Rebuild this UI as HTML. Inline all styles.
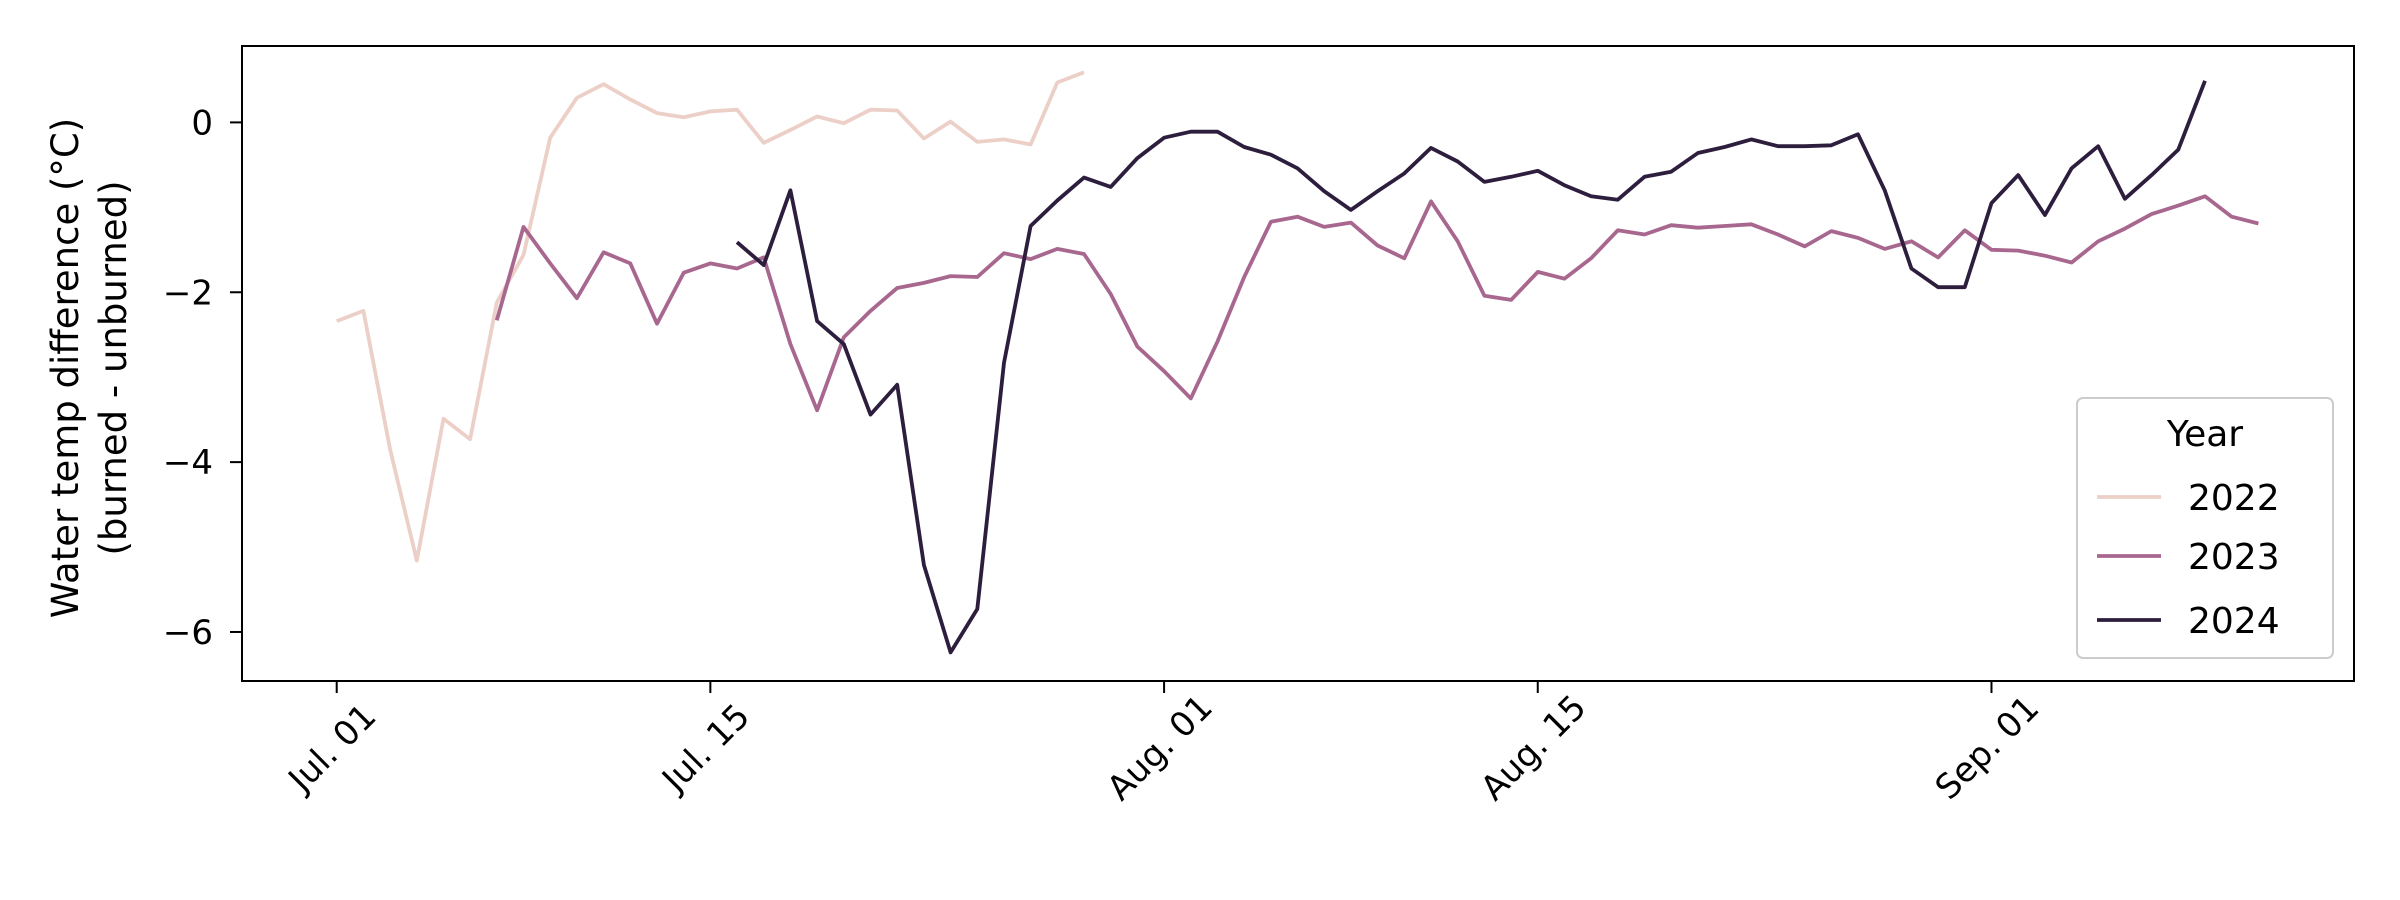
<!DOCTYPE html>
<html><head><meta charset="utf-8"><style>
html,body{margin:0;padding:0;background:#fff;}
svg{display:block;font-family:"DejaVu Sans","Liberation Sans",sans-serif;}
</style></head><body>
<svg id="chart" width="2400" height="900" viewBox="0 0 2400 900" xmlns="http://www.w3.org/2000/svg">
<rect x="0" y="0" width="2400" height="900" fill="#fff"/>
<g id="plot"></g>
<rect x="242" y="46" width="2112" height="635" fill="none" stroke="#000" stroke-width="2"/>
<g id="xaxis"></g>
<g id="yaxis"></g>
<text transform="translate(78,368) rotate(-90)" text-anchor="middle" font-size="37">Water temp difference (°C)</text>
<text transform="translate(126,368) rotate(-90)" text-anchor="middle" font-size="37">(burned - unburned)</text>
<g id="legend">
<rect x="2077" y="398" width="256" height="260" rx="6" fill="#fff" stroke="#ccc" stroke-width="2"/>
<text x="2205" y="446" text-anchor="middle" font-size="36">Year</text>
</g>
</svg>
<script>
const days2022 = [0,1,2,3,4,5,6,7,8,9,10,11,12,13,14,15,16,17,18,19,20,21,22,23,24,25,26,27,28];
const vals2022 = [-2.34,-2.22,-3.85,-5.16,-3.49,-3.73,-2.12,-1.56,-0.18,0.29,0.45,0.27,0.11,0.06,0.13,0.15,-0.24,-0.09,0.07,-0.01,0.15,0.14,-0.19,0.01,-0.23,-0.2,-0.26,0.47,0.59];
const days2023 = [6,7,8,9,10,11,12,13,14,15,16,17,18,19,20,21,22,23,24,25,26,27,28,29,30,31,32,33,34,35,36,37,38,39,40,41,42,43,44,45,46,47,48,49,50,51,52,53,54,55,56,57,58,59,60,61,62,63,64,65,66,67,68,69,70,71,72];
const vals2023 = [-2.33,-1.23,-1.66,-2.07,-1.53,-1.66,-2.37,-1.77,-1.66,-1.72,-1.59,-2.61,-3.39,-2.53,-2.22,-1.95,-1.89,-1.81,-1.82,-1.54,-1.61,-1.49,-1.55,-2.02,-2.64,-2.93,-3.25,-2.58,-1.82,-1.17,-1.11,-1.23,-1.18,-1.45,-1.6,-0.93,-1.4,-2.04,-2.09,-1.76,-1.84,-1.6,-1.27,-1.32,-1.21,-1.24,-1.22,-1.2,-1.32,-1.46,-1.28,-1.36,-1.49,-1.4,-1.59,-1.27,-1.5,-1.51,-1.57,-1.65,-1.4,-1.25,-1.08,-0.98,-0.87,-1.11,-1.19];
const days2024 = [15,16,17,18,19,20,21,22,23,24,25,26,27,28,29,30,31,32,33,34,35,36,37,38,39,40,41,42,43,44,45,46,47,48,49,50,51,52,53,54,55,56,57,58,59,60,61,62,63,64,65,66,67,68,69,70];
const vals2024 = [-1.41,-1.68,-0.8,-2.34,-2.61,-3.44,-3.09,-5.21,-6.24,-5.73,-2.83,-1.22,-0.92,-0.65,-0.76,-0.42,-0.18,-0.11,-0.11,-0.29,-0.38,-0.54,-0.81,-1.03,-0.81,-0.6,-0.3,-0.46,-0.7,-0.64,-0.57,-0.74,-0.87,-0.91,-0.64,-0.58,-0.36,-0.29,-0.2,-0.28,-0.28,-0.27,-0.14,-0.8,-1.72,-1.94,-1.94,-0.95,-0.62,-1.09,-0.54,-0.28,-0.9,-0.62,-0.32,0.49];
const xTickDays = [0,14,31,45,62];
const xTickLabels = ["Jul. 01","Jul. 15","Aug. 01","Aug. 15","Sep. 01"];
const yTicks = [0,-2,-4,-6];
const seriesNames = ["2022","2023","2024"];
const seriesColors = ["#ecd0c8","#a8678f","#2d1e3e"];

const NS = "http://www.w3.org/2000/svg";
function xs(d){ return 336.7 + d*26.69; }
function ys(v){ return 122.4 - v*84.93; }
function mk(tag, attrs, parent){ const e=document.createElementNS(NS,tag); for(const k in attrs) e.setAttribute(k,attrs[k]); parent.appendChild(e); return e; }

const plot = document.getElementById('plot');
const allDays = [days2022, days2023, days2024];
const allVals = [vals2022, vals2023, vals2024];
for(let s=0;s<3;s++){
  const pts = allDays[s].map((d,i)=>xs(d).toFixed(1)+','+ys(allVals[s][i]).toFixed(1)).join(' ');
  const pl = mk('polyline',{points:pts,fill:'none',stroke:seriesColors[s],'stroke-width':3.8,'stroke-linejoin':'round'},plot);
  
  
}
const xa = document.getElementById('xaxis');
xTickDays.forEach((d,i)=>{
  const x = xs(d);
  const t = mk('line',{x1:x,y1:681,x2:x,y2:693,stroke:'#000','stroke-width':2},xa);
  
  
  const lb = mk('text',{transform:'translate('+(x-4)+',748) rotate(-45)','text-anchor':'middle','dominant-baseline':'central','font-size':34},xa);
  
  
  lb.textContent = xTickLabels[i];
});
const ya = document.getElementById('yaxis');
yTicks.forEach(v=>{
  const y = ys(v);
  const t = mk('line',{x1:230,y1:y,x2:242,y2:y,stroke:'#000','stroke-width':2},ya);
  
  
  const lb = mk('text',{x:213,y:y+12,'text-anchor':'end','font-size':34},ya);
  
  
  lb.textContent = (v<0?'\u2212'+Math.abs(v):String(v));
});
const lg = document.getElementById('legend');
[497,556,620].forEach((y,i)=>{
  const l = mk('line',{x1:2097,y1:y,x2:2161,y2:y,stroke:seriesColors[i],'stroke-width':3.8},lg);
  
  
  const tx = mk('text',{x:2188,y:y+13,'font-size':36},lg);
  
  
  tx.textContent = seriesNames[i];
});
</script>
</body></html>
